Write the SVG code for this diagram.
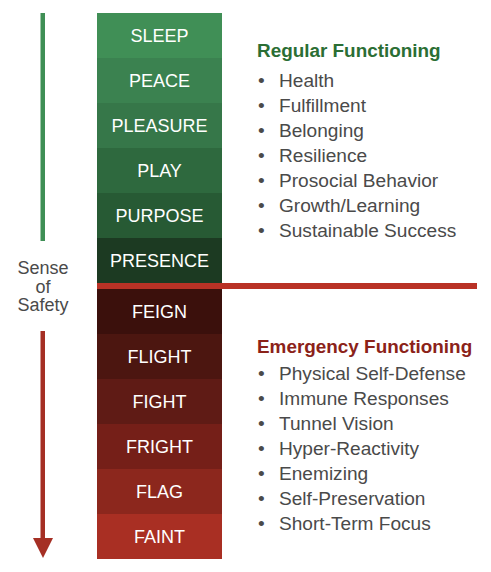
<svg xmlns="http://www.w3.org/2000/svg" width="491" height="572" viewBox="0 0 491 572">
<style>
.lbl{font-family:"Liberation Sans",Arial,sans-serif;font-size:18px;fill:#ffffff;text-anchor:middle}
.side{font-family:"Liberation Sans",Arial,sans-serif;font-size:18px;fill:#4a4a4a;text-anchor:middle}
.title{font-family:"Liberation Sans",Arial,sans-serif;font-size:18.9px;font-weight:bold}
.item{font-family:"Liberation Sans",Arial,sans-serif;font-size:19.1px;fill:#4a4a4a}
</style>
<rect width="491" height="572" fill="#ffffff"/>
<g id="connectors">
<rect x="40.5" y="13" width="4.5" height="228" fill="#3f8f55"/>
<rect x="40.5" y="331" width="4.5" height="208" fill="#a52f24"/>
<polygon points="33,538 53,538 43,558" fill="#a52f24"/>
</g>
<g id="sense-of-safety">
<text class="side" x="43" y="274">Sense</text>
<text class="side" x="43" y="292.5">of</text>
<text class="side" x="43" y="311">Safety</text>
</g>
<g id="sleep"><rect x="97" y="13" width="125" height="45" fill="#408f56"/><text class="lbl" x="159.5" y="42">SLEEP</text></g>
<g id="peace"><rect x="97" y="58" width="125" height="45" fill="#3b8250"/><text class="lbl" x="159.5" y="87">PEACE</text></g>
<g id="pleasure"><rect x="97" y="103" width="125" height="45" fill="#367749"/><text class="lbl" x="159.5" y="132">PLEASURE</text></g>
<g id="play"><rect x="97" y="148" width="125" height="45" fill="#2e693e"/><text class="lbl" x="159.5" y="177">PLAY</text></g>
<g id="purpose"><rect x="97" y="193" width="125" height="45" fill="#275a34"/><text class="lbl" x="159.5" y="222">PURPOSE</text></g>
<g id="presence"><rect x="97" y="238" width="125" height="45" fill="#1c3a22"/><text class="lbl" x="159.5" y="267">PRESENCE</text></g>
<g id="feign"><rect x="97" y="289" width="125" height="45" fill="#3b100c"/><text class="lbl" x="159.5" y="318">FEIGN</text></g>
<g id="flight"><rect x="97" y="334" width="125" height="45" fill="#4c1610"/><text class="lbl" x="159.5" y="363">FLIGHT</text></g>
<g id="fight"><rect x="97" y="379" width="125" height="45" fill="#5f1b15"/><text class="lbl" x="159.5" y="408">FIGHT</text></g>
<g id="fright"><rect x="97" y="424" width="125" height="45" fill="#751f18"/><text class="lbl" x="159.5" y="453">FRIGHT</text></g>
<g id="flag"><rect x="97" y="469" width="125" height="45" fill="#8c271d"/><text class="lbl" x="159.5" y="498">FLAG</text></g>
<g id="faint"><rect x="97" y="514" width="125" height="45" fill="#a92f23"/><text class="lbl" x="159.5" y="543">FAINT</text></g>
<g id="divider"><rect x="97" y="283" width="380" height="6" fill="#b93226"/></g>
<g id="regular-functioning">
<text class="title" x="257" y="56.5" fill="#2b6e34">Regular Functioning</text>
<g class="item">
<text x="258" y="86.5">•</text><text x="279" y="86.5">Health</text>
<text x="258" y="111.5">•</text><text x="279" y="111.5">Fulfillment</text>
<text x="258" y="136.5">•</text><text x="279" y="136.5">Belonging</text>
<text x="258" y="161.5">•</text><text x="279" y="161.5">Resilience</text>
<text x="258" y="186.5">•</text><text x="279" y="186.5">Prosocial Behavior</text>
<text x="258" y="211.5">•</text><text x="279" y="211.5">Growth/Learning</text>
<text x="258" y="236.5">•</text><text x="279" y="236.5">Sustainable Success</text>
</g>
</g>
<g id="emergency-functioning">
<text class="title" x="257" y="353" fill="#8b2219">Emergency Functioning</text>
<g class="item">
<text x="258" y="380">•</text><text x="279" y="380">Physical Self-Defense</text>
<text x="258" y="405">•</text><text x="279" y="405">Immune Responses</text>
<text x="258" y="430">•</text><text x="279" y="430">Tunnel Vision</text>
<text x="258" y="455">•</text><text x="279" y="455">Hyper-Reactivity</text>
<text x="258" y="480">•</text><text x="279" y="480">Enemizing</text>
<text x="258" y="505">•</text><text x="279" y="505">Self-Preservation</text>
<text x="258" y="530">•</text><text x="279" y="530">Short-Term Focus</text>
</g>
</g>
</svg>
